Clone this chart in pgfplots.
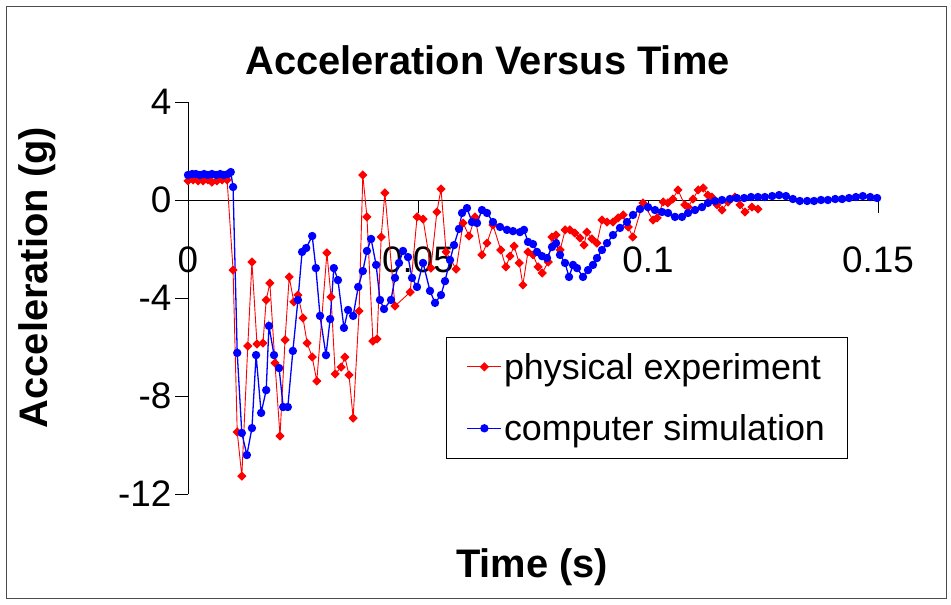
\documentclass[border=0pt]{standalone}
\usepackage{pgfplots}
\pgfplotsset{compat=1.18}
\usepackage{fontspec}
\setmainfont{Liberation Sans}
\definecolor{xred}{RGB}{255,0,0}
\definecolor{xblue}{RGB}{0,0,255}
\begin{document}
\begin{tikzpicture}
\useasboundingbox (0,0) rectangle (951bp,605bp);
\draw[black!70, line width=1bp] (6bp,6bp) rectangle (946bp,598bp);
\begin{axis}[
  at={(188bp,111bp)}, anchor=south west,
  scale only axis, width=690bp, height=392bp,
  xmin=0, xmax=0.15, ymin=-12, ymax=4,
  axis x line=middle, axis y line=left,
  axis line style={-, black, line width=0.9bp},
  xtick={0,0.05,0.1,0.15}, xticklabels={0,0.05,0.1,0.15},
  ytick={-12,-8,-4,0,4}, yticklabels={-12,-8,-4,0,4},
  hide obscured x ticks=false,
  tick align=outside, major tick length=13bp,
  tick style={black, line width=0.9bp},
  ticklabel style={font=\fontsize{37}{37}\selectfont},
  xticklabel style={anchor=north, yshift=-30bp},
  yticklabel style={anchor=east},
  title={Acceleration Versus Time},
  title style={at={(axis description cs:0.434,1.055)}, anchor=base, font=\bfseries\fontsize{40}{40}\selectfont},
  xlabel={Time (s)},
  xlabel style={at={(axis description cs:0.4986,-0.214)}, anchor=base, font=\bfseries\fontsize{40}{40}\selectfont},
  ylabel={Acceleration (g)},
  ylabel style={at={(axis description cs:-0.204,0.552)}, anchor=base, font=\bfseries\fontsize{40}{40}\selectfont},
  legend style={draw=black, line width=0.8bp, font=\fontsize{36}{36}\selectfont,
    at={(axis description cs:0.665,0.246)}, anchor=center,
    inner xsep=20bp, inner ysep=14bp, row sep=30bp, fill=white},
  legend cell align=left,
  legend image code/.code={\draw[mark repeat=2,mark phase=2,#1] plot coordinates {(0bp,0bp) (17bp,0bp) (34bp,0bp)};},
  clip=false,
]
\addplot[xred, line width=0.9bp, mark=square*, mark size=2.8bp, mark options={rotate=45, solid, fill=xred, draw=xred}] coordinates {
(0.0000,0.78) (0.0011,0.82) (0.0022,0.78) (0.0033,0.78) (0.0043,0.82) (0.0052,0.73)
(0.0063,0.78) (0.0074,0.82) (0.0085,0.82) (0.0098,-2.86) (0.0107,-9.47) (0.0117,-11.27)
(0.0130,-5.96) (0.0139,-2.53) (0.0150,-5.88) (0.0163,-5.84) (0.0170,-4.08) (0.0178,-3.39)
(0.0189,-6.65) (0.0200,-9.63) (0.0211,-5.71) (0.0220,-3.14) (0.0230,-4.16) (0.0239,-3.88)
(0.0250,-4.82) (0.0259,-5.84) (0.0270,-6.41) (0.0280,-7.39) (0.0302,-2.16) (0.0311,-3.96)
(0.0320,-7.10) (0.0333,-6.82) (0.0341,-6.41) (0.0350,-7.14) (0.0359,-8.90) (0.0372,-4.53)
(0.0380,1.02) (0.0389,-0.69) (0.0402,-5.76) (0.0411,-5.67) (0.0420,-1.51) (0.0428,0.29)
(0.0450,-4.33) (0.0483,-3.76) (0.0498,-0.69) (0.0511,-0.78) (0.0528,-2.78) (0.0541,-0.49)
(0.0550,0.45) (0.0561,-2.12) (0.0583,-2.82) (0.0598,-0.94) (0.0611,-1.47) (0.0624,-0.69)
(0.0639,-2.24) (0.0650,-1.76) (0.0663,-1.02) (0.0680,-2.04) (0.0691,-2.73) (0.0700,-2.29)
(0.0709,-1.88) (0.0720,-2.57) (0.0728,-3.47) (0.0739,-2.12) (0.0750,-2.24) (0.0761,-2.73)
(0.0770,-2.98) (0.0783,-2.53) (0.0791,-1.51) (0.0800,-1.43) (0.0809,-2.04) (0.0820,-1.22)
(0.0830,-1.22) (0.0841,-1.35) (0.0852,-1.55) (0.0861,-1.84) (0.0867,-1.31) (0.0878,-1.59)
(0.0889,-1.76) (0.0900,-0.82) (0.0911,-0.90) (0.0924,-0.90) (0.0935,-0.73) (0.0946,-0.61)
(0.0957,-1.10) (0.0967,-1.51) (0.0989,-0.12) (0.1011,-0.82) (0.1020,-0.73) (0.1033,-0.08)
(0.1043,-0.12) (0.1054,0.04) (0.1065,0.41) (0.1080,-0.20) (0.1087,-0.29) (0.1098,0.04)
(0.1109,0.41) (0.1120,0.49) (0.1130,0.20) (0.1139,0.12) (0.1150,-0.20) (0.1161,-0.41)
(0.1174,-0.08) (0.1189,0.12) (0.1200,-0.20) (0.1211,-0.49) (0.1226,-0.29) (0.1239,-0.37)
};
\addlegendentry{physical experiment}
\addplot[xblue, line width=1.3bp, mark=*, mark size=3.5bp, mark options={solid, fill=xblue, draw=xblue}] coordinates {
(0.0000,1.02) (0.0009,1.06) (0.0017,1.06) (0.0026,1.02) (0.0035,1.06) (0.0043,1.02)
(0.0052,1.06) (0.0061,1.02) (0.0070,1.06) (0.0078,1.02) (0.0087,1.06) (0.0093,1.14)
(0.0098,0.53) (0.0107,-6.24) (0.0117,-9.51) (0.0128,-10.41) (0.0139,-9.31) (0.0148,-6.33)
(0.0159,-8.69) (0.0170,-7.76) (0.0176,-5.14) (0.0187,-6.33) (0.0198,-6.86) (0.0207,-8.45)
(0.0217,-8.45) (0.0228,-6.16) (0.0239,-4.08) (0.0248,-2.12) (0.0257,-1.96) (0.0270,-1.47)
(0.0278,-2.78) (0.0287,-4.73) (0.0300,-6.33) (0.0309,-4.86) (0.0317,-2.78) (0.0326,-3.27)
(0.0339,-5.22) (0.0348,-4.49) (0.0359,-4.73) (0.0370,-3.55) (0.0380,-2.90) (0.0389,-2.08)
(0.0398,-1.59) (0.0409,-2.65) (0.04174,-4.08) (0.04261,-4.45) (0.04413,-4.08) (0.04500,-3.18)
(0.04587,-2.57) (0.04674,-2.08) (0.04783,-2.33) (0.04870,-3.18) (0.04978,-3.55) (0.05109,-2.57)
(0.05261,-3.71) (0.05370,-4.20) (0.05500,-3.88) (0.05587,-3.31) (0.05696,-2.45) (0.05783,-1.84)
(0.05891,-1.18) (0.05957,-0.53) (0.06065,-0.33) (0.06174,-0.90) (0.06283,-0.94) (0.06391,-0.41)
(0.06500,-0.53) (0.06630,-0.90) (0.06783,-1.10) (0.06935,-1.22) (0.07065,-1.27) (0.07217,-1.31)
(0.07304,-1.22) (0.07391,-1.71) (0.07500,-1.80) (0.07587,-2.12) (0.07696,-2.29) (0.07804,-2.37)
(0.07913,-1.92) (0.08000,-1.76) (0.08087,-2.24) (0.08196,-2.57) (0.08283,-3.14) (0.08370,-2.65)
(0.08457,-2.78) (0.08587,-3.14) (0.08696,-2.86) (0.08804,-2.65) (0.08891,-2.37) (0.09000,-2.04)
(0.09109,-1.76) (0.09239,-1.43) (0.09391,-1.14) (0.09543,-0.90) (0.09674,-0.61) (0.09826,-0.37)
(0.10000,-0.29) (0.10152,-0.41) (0.10304,-0.49) (0.10435,-0.53) (0.10587,-0.69) (0.10739,-0.69)
(0.10870,-0.53) (0.11022,-0.41) (0.11174,-0.29) (0.11304,-0.12) (0.11457,-0.04) (0.11609,0.00)
(0.1178,0.04) (0.1193,0.08) (0.1209,0.08) (0.1224,0.12) (0.1239,0.12) (0.1254,0.12)
(0.1270,0.16) (0.1285,0.20) (0.1300,0.16) (0.1315,0.04) (0.1330,-0.04) (0.1346,-0.04)
(0.1361,-0.04) (0.1376,0.00) (0.1391,0.00) (0.1407,0.04) (0.1422,0.04) (0.1437,0.08)
(0.1452,0.12) (0.1467,0.16) (0.1483,0.12) (0.1498,0.08)
};
\addlegendentry{computer simulation}
\end{axis}
\end{tikzpicture}
\end{document}
